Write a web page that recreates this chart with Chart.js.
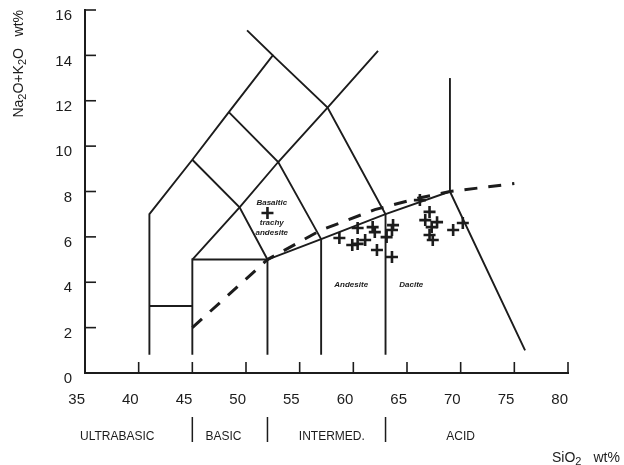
<!DOCTYPE html>
<html>
<head>
<meta charset="utf-8">
<script src="https://cdn.jsdelivr.net/npm/chart.js@4"></script>
<style>
  html, body { margin: 0; padding: 0; background: #fff; }
  #wrap { width: 624px; height: 465px; }
</style>
</head>
<body>
<div id="wrap"><canvas id="tas"></canvas></div>
<script>
// analysed samples: SiO2 wt% and Na2O+K2O wt%
const sio2   = [52.0, 60.4, 58.7, 59.9, 60.4, 61.1, 61.8, 62.0, 62.2, 63.6, 63.1, 63.7, 63.6,
                66.2, 67.1, 66.7, 67.8, 67.3, 67.1, 67.4, 69.3, 70.2];
const alkali = [7.05, 6.39, 5.95, 5.64, 5.69, 5.86, 6.43, 6.21, 5.42, 5.11, 5.99, 6.52, 6.30,
                7.62, 7.10, 6.74, 6.65, 6.43, 6.08, 5.86, 6.30, 6.61];

// TAS field boundaries as [SiO2, alkali] vertices
const edgeLeft      = [[41, 0.8], [41, 7], [45, 9.4], [48.4, 11.5], [52.5, 14], [50.1, 15.1]];
const edgePicro     = [[41, 2.95], [45, 2.95]];
const edgeBasalt    = [[45, 0.8], [45, 5], [52, 5], [52, 0.8]];
const edgeMiddle    = [[45, 5], [49.4, 7.3], [53, 9.3], [57.6, 11.7], [62.3, 14.2]];
const edgeCross1    = [[45, 9.4], [49.4, 7.3], [52, 5]];
const edgeCross2    = [[48.4, 11.5], [53, 9.3], [57, 5.9], [57, 0.8]];
const edgeCross3    = [[52.5, 14], [57.6, 11.7], [63, 7], [63, 0.8]];
const edgeBase      = [[52, 5], [57, 5.9], [63, 7], [69, 8], [76, 1]];
const edgeRhyolite  = [[69, 8], [69, 13]];
const boundaries = [edgeLeft, edgePicro, edgeBasalt, edgeMiddle, edgeCross1, edgeCross2,
                    edgeCross3, edgeBase, edgeRhyolite];

// alkaline / subalkaline divide (dashed)
const divide = [[45, 2], [52, 5], [57, 6.3], [62, 7.2], [66, 7.7], [69, 8], [75, 8.35]];

// rock class row under the axis
const classNames   = ['ULTRABASIC', 'BASIC', 'INTERMED.', 'ACID'];
const classCentres = [38, 47.9, 58, 70];
const classBreaks  = [45, 52, 63];

// field names written inside the diagram
const fieldNames = ['Basaltic', 'trachy', 'andesite', 'Andesite', 'Dacite'];
const fieldX     = [52.4, 52.4, 52.4, 59.8, 65.4];
const fieldY     = [7.5, 6.6, 6.18, 3.88, 3.88];

const ink = '#1c1c1c';
const font = '"Liberation Sans", Arial, sans-serif';

const toXY = pts => pts.map(p => ({ x: p[0], y: p[1] }));

const datasets = boundaries.map(b => ({
  data: toXY(b),
  showLine: true,
  borderColor: ink,
  borderWidth: 1.9,
  pointRadius: 0,
  fill: false
}));
datasets.push({
  data: toXY(divide),
  showLine: true,
  borderColor: ink,
  borderWidth: 3,
  borderDash: [13, 11],
  pointRadius: 0,
  fill: false
});
datasets.push({
  data: sio2.map((v, i) => ({ x: v, y: alkali[i] })),
  showLine: false,
  pointStyle: 'cross',
  pointRadius: 6,
  borderColor: ink,
  borderWidth: 2.6
});

// inner tick marks, labels and the class row
const extras = {
  id: 'extras',
  afterDraw(chart) {
    const { ctx, chartArea: area } = chart;
    const x = chart.scales.x, y = chart.scales.y;
    ctx.save();
    ctx.strokeStyle = ink;
    ctx.fillStyle = ink;
    ctx.lineWidth = 1.6;

    x.ticks.forEach(t => {
      const px = x.getPixelForValue(t.value);
      ctx.beginPath(); ctx.moveTo(px, area.bottom); ctx.lineTo(px, area.bottom - 11); ctx.stroke();
    });
    y.ticks.forEach(t => {
      const py = y.getPixelForValue(t.value);
      ctx.beginPath(); ctx.moveTo(area.left, py); ctx.lineTo(area.left + 11, py); ctx.stroke();
    });

    // field names
    ctx.font = 'italic bold 8px ' + font;
    ctx.textAlign = 'center';
    ctx.textBaseline = 'middle';
    fieldNames.forEach((n, i) => {
      ctx.fillText(n, x.getPixelForValue(fieldX[i]), y.getPixelForValue(fieldY[i]));
    });

    // class row
    ctx.font = '12px ' + font;
    classNames.forEach((n, i) => {
      ctx.fillText(n, x.getPixelForValue(classCentres[i]), area.bottom + 64);
    });
    ctx.lineWidth = 1.5;
    classBreaks.forEach(b => {
      const px = x.getPixelForValue(b);
      ctx.beginPath(); ctx.moveTo(px, area.bottom + 44); ctx.lineTo(px, area.bottom + 69); ctx.stroke();
    });

    // x title: SiO2 wt%
    ctx.textAlign = 'left';
    ctx.textBaseline = 'alphabetic';
    let tx = area.right - 16;
    const ty = area.bottom + 89;
    ctx.font = '14px ' + font;
    ctx.fillText('SiO', tx, ty); tx += ctx.measureText('SiO').width;
    ctx.font = '11px ' + font;
    ctx.fillText('2', tx, ty + 3); tx += ctx.measureText('2').width + 12;
    ctx.font = '14px ' + font;
    ctx.fillText('wt%', tx, ty);

    // y title: Na2O+K2O wt%, reading upwards, ending at the top of the axis
    const parts = [['Na', 0], ['2', 1], ['O+K', 0], ['2', 1], ['O', 0], ['   wt%', 0]];
    const widthOf = p => { ctx.font = (p[1] ? '11px ' : '14px ') + font; return ctx.measureText(p[0]).width; };
    const total = parts.reduce((s, p) => s + widthOf(p), 0);
    ctx.translate(23, area.top);
    ctx.rotate(-Math.PI / 2);
    let cx = -total;
    parts.forEach(p => {
      const w = widthOf(p);
      ctx.fillText(p[0], cx, p[1] ? 3 : 0);
      cx += w;
    });
    ctx.restore();
  }
};

new Chart(document.getElementById('tas'), {
  type: 'scatter',
  data: { datasets: datasets },
  options: {
    responsive: true,
    maintainAspectRatio: false,
    animation: false,
    layout: { padding: { top: 10, right: 56, left: 0, bottom: 0 } },
    plugins: { legend: { display: false }, tooltip: { enabled: false } },
    scales: {
      x: {
        type: 'linear',
        min: 35, max: 80,
        afterFit: s => { s.height = 92; s.paddingLeft = 0; s.paddingRight = 0; },
        grid: { display: false, drawTicks: false },
        border: { display: true, color: ink, width: 2 },
        ticks: { stepSize: 5, align: 'end', padding: 18, color: ink, font: { family: font, size: 15 } }
      },
      y: {
        type: 'linear',
        min: 0, max: 16,
        afterFit: s => { s.width = 85; s.paddingTop = 0; s.paddingBottom = 0; },
        grid: { display: false, drawTicks: false },
        border: { display: true, color: ink, width: 2 },
        ticks: { stepSize: 2, padding: 13, labelOffset: 6, color: ink, font: { family: font, size: 15 } }
      }
    }
  },
  plugins: [extras]
});
</script>
</body>
</html>
